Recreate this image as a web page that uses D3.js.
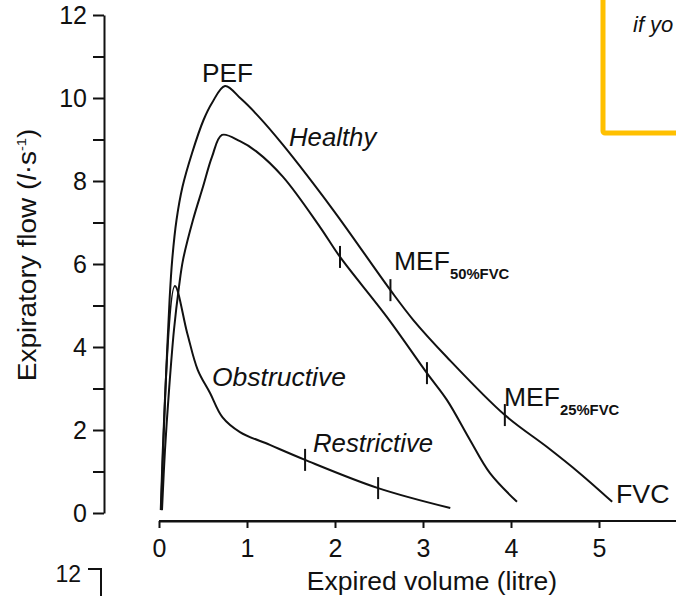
<!DOCTYPE html>
<html>
<head>
<meta charset="utf-8">
<script src="https://cdnjs.cloudflare.com/ajax/libs/d3/7.8.5/d3.min.js"></script>
<style>
body { margin: 0; background: #fff; overflow: hidden; }
text { font-family: "Liberation Sans", Arial, sans-serif; fill: #111; }
</style>
</head>
<body>
<svg id="chart" width="676" height="596"></svg>
<script>
// expired volume (litre) / expiratory flow (l/s)
var healthyVol = [0.023, 0.051, 0.083, 0.120, 0.150, 0.199, 0.267, 0.375, 0.506, 0.602, 0.75, 0.932, 1.125, 1.409, 1.98, 2.63, 2.89, 3.27, 3.93, 4.41, 4.78, 5.15];
var healthyFlow = [0.07, 1.76, 3.45, 5.13, 6.10, 7.06, 7.86, 8.67, 9.47, 9.88, 10.29, 9.98, 9.57, 8.87, 7.30, 5.37, 4.65, 3.76, 2.36, 1.59, 0.96, 0.27];

var restrictVol = [0.034, 0.068, 0.114, 0.170, 0.227, 0.273, 0.386, 0.50, 0.602, 0.716, 0.92, 1.102, 1.409, 1.83, 2.057, 2.591, 3.045, 3.273, 3.534, 3.761, 4.068];
var restrictFlow = [0.07, 1.52, 2.96, 4.41, 5.45, 6.10, 7.06, 7.86, 8.58, 9.11, 8.96, 8.72, 8.10, 6.89, 6.17, 4.72, 3.37, 2.72, 1.76, 0.96, 0.27];

var obstructVol = [0.02, 0.18, 0.32, 0.44, 0.58, 0.72, 0.92, 1.26, 1.66, 2.49, 3.31];
var obstructFlow = [0.07, 5.47, 4.34, 3.45, 2.89, 2.31, 1.95, 1.64, 1.28, 0.60, 0.12];

// MEF50 / MEF25 marks on each curve
var healthyMarkVol = [2.63, 3.93];
var healthyMarkFlow = [5.37, 2.36];
var restrictMarkVol = [2.057, 3.045];
var restrictMarkFlow = [6.17, 3.37];
var obstructMarkVol = [1.66, 2.49];
var obstructMarkFlow = [1.28, 0.60];

var xTicks = [0, 1, 2, 3, 4, 5];
var yTicks = d3.range(0, 13);

var svg, x, y, line, zip, label;

svg = d3.select("#chart");

x = d3.scaleLinear().domain([0, 5]).range([159, 599]);
y = d3.scaleLinear().domain([0, 12]).range([513, 15]);

zip = function(a, b) {
  return a.map(function(d, i) { return [d, b[i]]; });
};

line = d3.line()
  .x(function(d) { return x(d[0]); })
  .y(function(d) { return y(d[1]); })
  .curve(d3.curveCatmullRom.alpha(0.5));

// the scan is a bit wider than the font, so stretch texts sideways
label = function(px, py, txt, size, stretch, italic, anchor) {
  return svg.append("text")
    .attr("transform", "translate(" + px + "," + py + ") scale(" + stretch + ",1)")
    .attr("font-size", size)
    .attr("font-style", italic ? "italic" : "normal")
    .attr("text-anchor", anchor || "start")
    .text(txt);
};

// y axis
var yAxis = svg.append("g")
  .attr("transform", "translate(104,0)")
  .call(d3.axisLeft(y).tickValues(yTicks).tickSize(11).tickSizeOuter(0).tickPadding(6)
    .tickFormat(function(d) { return d % 2 === 0 ? d : ""; }));

// x axis
var xAxis = svg.append("g")
  .attr("transform", "translate(0,521)")
  .call(d3.axisBottom(x).tickValues(xTicks).tickSize(7).tickSizeOuter(0).tickPadding(11)
    .tickFormat(d3.format("d")));
xAxis.append("line")
  .attr("x1", x(0)).attr("x2", 676)
  .attr("stroke", "#111").attr("stroke-width", 2);

[yAxis, xAxis].forEach(function(g) {
  g.selectAll(".domain").attr("stroke", "#111").attr("stroke-width", 2);
  g.selectAll(".tick line").attr("stroke", "#111").attr("stroke-width", 2);
  g.selectAll(".tick text").attr("font-size", 25).attr("fill", "#111")
    .attr("font-family", "'Liberation Sans', Arial, sans-serif");
});

// curves
[zip(healthyVol, healthyFlow), zip(restrictVol, restrictFlow), zip(obstructVol, obstructFlow)].forEach(function(pts) {
  svg.append("path")
    .attr("d", line(pts))
    .attr("fill", "none")
    .attr("stroke", "#111")
    .attr("stroke-width", 2)
    .attr("stroke-linejoin", "round");
});

// marks
var marks = zip(healthyMarkVol, healthyMarkFlow)
  .concat(zip(restrictMarkVol, restrictMarkFlow))
  .concat(zip(obstructMarkVol, obstructMarkFlow));
svg.selectAll("line.mark").data(marks).enter().append("line")
  .attr("class", "mark")
  .attr("x1", function(d) { return x(d[0]); })
  .attr("x2", function(d) { return x(d[0]); })
  .attr("y1", function(d) { return y(d[1]) - 11; })
  .attr("y2", function(d) { return y(d[1]) + 11; })
  .attr("stroke", "#111").attr("stroke-width", 2);

// labels
label(202, 82, "PEF", 25, 1.05);
label(289, 146, "Healthy", 25, 1.03, true);
label(212, 386, "Obstructive", 25, 1.06, true);
label(313, 452, "Restrictive", 25, 1.03, true);
label(616, 503, "FVC", 26, 1.03);

var mef = function(px, py, sub) {
  var t = label(px, py, "", 25, 1.06);
  t.append("tspan").text("MEF");
  t.append("tspan").attr("dy", 9).attr("font-size", 14).attr("font-weight", "bold").text(sub);
};
mef(394, 270, "50%FVC");
mef(504, 406, "25%FVC");

// axis titles
label(432, 590, "Expired volume (litre)", 25, 1.06, false, "middle");

var yl = svg.append("text")
  .attr("transform", "translate(36,255) rotate(-90) scale(1.12,1)")
  .attr("text-anchor", "middle").attr("font-size", 25);
yl.append("tspan").text("Expiratory flow (");
yl.append("tspan").attr("font-style", "italic").text("l");
yl.append("tspan").text("·s");
yl.append("tspan").attr("font-size", 13).attr("dy", -10).text("-1");
yl.append("tspan").attr("dy", 10).text(")");

// fragment of the next chart below
svg.append("text").attr("x", 81).attr("y", 582).attr("text-anchor", "end").attr("font-size", 23).text("12");
svg.append("path").attr("d", "M88,569H101V600").attr("fill", "none").attr("stroke", "#111").attr("stroke-width", 2);

// yellow note box, cut by the frame
svg.append("rect")
  .attr("x", 603).attr("y", -20).attr("width", 120).attr("height", 153)
  .attr("fill", "none").attr("stroke", "#FFC000").attr("stroke-width", 5).attr("rx", 2);
svg.append("text")
  .attr("x", 633).attr("y", 32)
  .attr("font-family", "'Open Sans', sans-serif").attr("font-style", "italic").attr("font-size", 22)
  .text("if yo");
</script>
</body>
</html>
